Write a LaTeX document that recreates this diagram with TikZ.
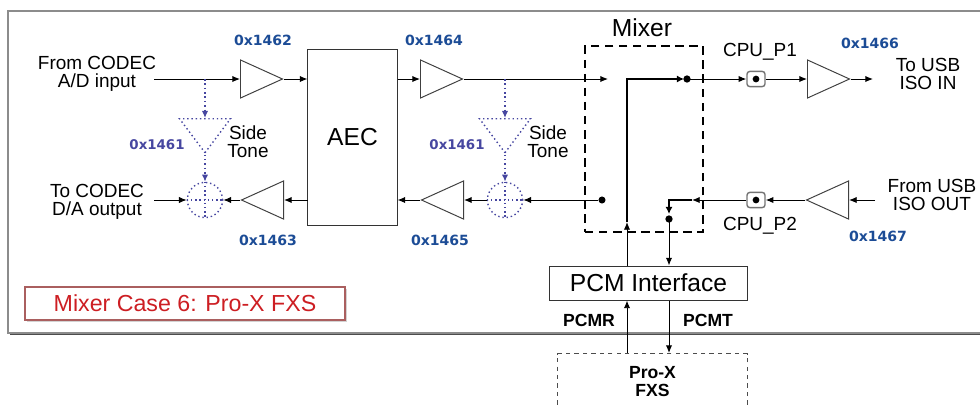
\documentclass[tikz,border=0pt]{standalone}
\usepackage{fontspec}
\setmainfont{Liberation Sans}
\newfontfamily\hexfont{DejaVu Sans}
\usetikzlibrary{arrows.meta}
\usetikzlibrary{calc}
\usetikzlibrary{shapes.geometric}
\usetikzlibrary{shadows}

\definecolor{hexblue}{RGB}{28,76,150}
\definecolor{stblue}{RGB}{70,70,160}
\definecolor{casered}{RGB}{205,30,35}
\definecolor{caseframe}{RGB}{170,95,95}

\tikzset{
  amp/.style={isosceles triangle, isosceles triangle stretches, draw=black!75, line width=0.7pt,
    inner sep=0pt, minimum height=1.05cm, minimum width=0.95cm, anchor=lower side},
  tone/.style={isosceles triangle, isosceles triangle stretches, draw=stblue, dotted, line width=1pt,
    inner sep=0pt, minimum height=0.85cm, minimum width=1.275cm, rotate=-90, anchor=lower side},
  sum/.style={circle, draw=stblue, dotted, line width=1pt, inner sep=0pt, minimum size=0.88cm},
  wire/.style={line width=0.7pt, -{Latex[length=5.5pt,width=4.5pt]}},
  tap/.style={stblue, dotted, line width=1.1pt, -{Latex[length=5pt,width=4.5pt]}},
  bus/.style={line width=2pt},
  dot/.style={circle, fill, inner sep=0pt, minimum size=5pt},
  cpu/.style={draw=black!55, rounded corners=2pt, line width=1pt, inner sep=0pt,
    minimum width=0.45cm, minimum height=0.38cm},
  block/.style={draw=black!80, line width=0.7pt, inner sep=0pt},
  lbl/.style={font=\fontsize{13.5}{12.8}\selectfont, align=center, inner sep=0pt},
  big/.style={font=\fontsize{17.5}{17.5}\selectfont},
  hex/.style={font=\hexfont\bfseries\fontsize{10}{10}\selectfont, text=hexblue, inner sep=0pt},
  tonehex/.style={font=\hexfont\bfseries\fontsize{9.5}{9.5}\selectfont, text=stblue, inner sep=0pt}
}

\begin{document}
\begin{tikzpicture}[x=0.025cm, y=-0.025cm]
  \useasboundingbox (0,0) rectangle (980,404);

  \draw[black!45, line width=0.8pt] (8,11) rectangle (1000,333);
  \draw[black!70, line width=1.2pt] (10,334.5) -- (1000,334.5);

  \node[amp] (amp1) at (240,79) {};
  \node[amp, rotate=180] (amp2) at (284,200) {};
  \node[amp] (amp3) at (420,79) {};
  \node[amp, rotate=180] (amp4) at (464,200) {};
  \node[amp] (amp5) at (807,79) {};
  \node[amp, rotate=180] (amp6) at (849,200) {};

  \node[tone] (st1) at (205,118) {};
  \node[tone] (st2) at (505,118) {};
  \node[sum] (sum1) at (205,200) {};
  \node[sum] (sum2) at (505,200) {};

  \node[block, minimum width=2.225cm, minimum height=4.375cm, big] (aec) at (352.5,137.5) {AEC};
  \node[draw, dash pattern=on 6pt off 4pt, line width=1.8pt, minimum width=2.95cm, minimum height=4.65cm] (mixer) at (644,139) {};
  \node[big, inner sep=0pt] (mixlbl) at (642,28) {Mixer};
  \node[block, minimum width=4.925cm, minimum height=0.85cm, big] (pcm) at (648.5,283) {PCM Interface};
  \node[draw=black!70, dashed, line width=0.7pt, anchor=north, minimum width=4.725cm, minimum height=1.4cm,
    align=center, font=\bfseries\fontsize{12.5}{12.5}\selectfont] (fxs) at (652.5,353) {Pro-X\\FXS};

  \node[cpu] (cpu1) at (756,79) {};
  \node[cpu] (cpu2) at (756,200) {};
  \fill (cpu1) circle (2.4pt);
  \fill (cpu2) circle (2.4pt);

  \node[lbl] (adlbl) at (97,74) {From CODEC\\A/D input};
  \node[lbl] (dalbl) at (97,202) {To CODEC\\D/A output};
  \node[lbl] (tone1) at (248,142) {Side\\Tone};
  \node[lbl] (tone2) at (548,142) {Side\\Tone};
  \node[lbl] (usbinlbl) at (928,74) {To USB\\ISO IN};
  \node[lbl] (usboutlbl) at (932,195) {From USB\\ISO OUT};
  \node[lbl] (p1lbl) at (760,52) {CPU\_P1};
  \node[lbl] (p2lbl) at (760,226) {CPU\_P2};
  \node[lbl, font=\bfseries\fontsize{12.5}{12.5}\selectfont] (rlbl) at (589,320) {PCMR};
  \node[lbl, font=\bfseries\fontsize{12.5}{12.5}\selectfont] (tlbl) at (708,320) {PCMT};

  \node[hex] (h1462) at (263,40) {0x1462};
  \node[hex] (h1464) at (434,40) {0x1464};
  \node[hex] (h1463) at (268,240) {0x1463};
  \node[hex] (h1465) at (440,240) {0x1465};
  \node[hex] (h1466) at (870,43) {0x1466};
  \node[hex] (h1467) at (878,236) {0x1467};
  \node[tonehex] (h1461a) at (157,145) {0x1461};
  \node[tonehex] (h1461b) at (457,145) {0x1461};

  \node[draw=caseframe, line width=1.2pt, fill=white, minimum width=8cm, minimum height=0.825cm,
    drop shadow={opacity=0.35, shadow xshift=1.2pt, shadow yshift=-1.2pt},
    text=casered, font=\fontsize{16.5}{16.5}\selectfont] (case) at (185,303.5) {Mixer Case 6: Pro-X FXS};

  \coordinate (adin) at (154,79);
  \coordinate (daout) at (154,200);
  \coordinate (b1) at (205,79);
  \coordinate (b2) at (505,79);
  \coordinate (mixin) at (608,79);
  \coordinate (m1) at (627,222);
  \coordinate (mixout) at (687,79);
  \coordinate (m2) at (692,200);
  \coordinate (m3) at (669,219);
  \coordinate (usbin) at (873,79);
  \coordinate (usbout) at (875,200);
  \node[dot] (mixtap) at (602,200) {};

  \draw[wire] (adin) -- (amp1.lower side);
  \draw[wire] (amp1.apex) -- (amp1.apex -| aec.west);
  \draw[wire] (amp3.lower side -| aec.east) -- (amp3.lower side);
  \draw[wire] (amp3.apex) -- (mixin);
  \draw[wire] (amp2.lower side -| aec.west) -- (amp2.lower side);
  \draw[wire] (amp2.apex) -- (sum1.east);
  \draw[wire] (daout) -- (sum1.west);
  \draw[wire] (mixtap) -- (sum2.east);
  \draw[wire] (sum2.west) -- (amp4.lower side);
  \draw[wire] (amp4.apex) -- (amp4.apex -| aec.east);

  \draw[tap] (b1) -- (st1.lower side);
  \draw[tap] (st1.apex) -- (sum1.north);
  \draw[tap] (b2) -- (st2.lower side);
  \draw[tap] (st2.apex) -- (sum2.north);
  \draw[stblue, dotted, line width=1pt] (sum1.north) -- (sum1.south) (sum1.west) -- (sum1.east);
  \draw[stblue, dotted, line width=1pt] (sum2.north) -- (sum2.south) (sum2.west) -- (sum2.east);

  \draw[bus, -{Latex[length=5pt,width=5pt]}] (m1) |- ($(mixout)+(-3,0)$);
  \fill (mixout) circle (2.6pt);
  \draw[wire] (mixout) -- (cpu1.west);
  \draw[wire] (cpu1.east) -- (amp5.lower side);
  \draw[wire] (amp5.apex) -- (usbin);

  \draw[wire] (usbout) -- (amp6.lower side);
  \draw[wire] (amp6.apex) -- (cpu2.east);
  \draw[wire] (cpu2.west) -- (m2);
  \draw[bus, -{Latex[length=5pt,width=5pt]}] (m2) -| ($(m3)+(0,-5)$);
  \fill (m3) circle (2.6pt);

  \draw[wire] (m1 |- pcm.north) -- (m1);
  \draw[wire] (m3) -- (m3 |- pcm.north);
  \draw[wire] (m1 |- fxs.north) -- (m1 |- pcm.south);
  \draw[wire] (m3 |- pcm.south) -- (m3 |- fxs.north);
\end{tikzpicture}
\end{document}
